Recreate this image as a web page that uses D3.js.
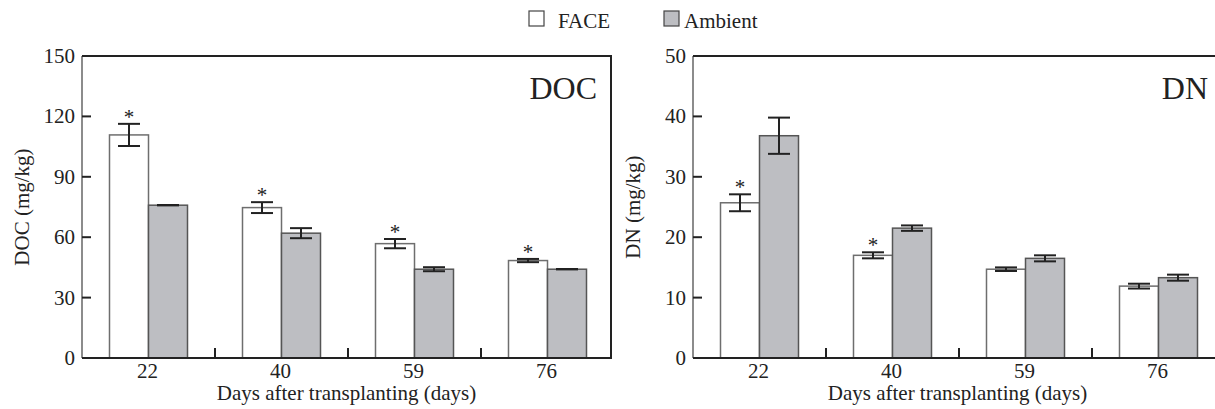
<!DOCTYPE html>
<html>
<head>
<meta charset="utf-8">
<script src="https://cdn.jsdelivr.net/npm/d3@7"></script>
<style>
    body { margin: 0; background: #fff; }
    svg { display: block; font-family: "Liberation Serif", "Times New Roman", serif; }
    .tick-label { font-size: 21px; fill: #222; }
    .axes-label { font-size: 21px; fill: #222; text-anchor: middle; }
    .panel-label { font-size: 32px; fill: #222; text-anchor: end; }
    .legend-text { font-size: 21px; fill: #222; }
    .star { font-size: 21px; fill: #222; text-anchor: middle; }
</style>
</head>
<body>
<div id="chart"></div>
<script>
// categories and series
const days = ['22', '40', '59', '76'];
const series = ['FACE', 'Ambient'];

// DOC panel (mg/kg)
const docFace = [110.8, 74.7, 56.8, 48.4];
const docFaceErr = [5.5, 2.7, 2.3, 0.8];
const docAmbient = [75.9, 62.0, 44.1, 44.1];
const docAmbientErr = [0.1, 2.5, 1.0, 0.1];
const docStars = [true, true, true, true];
const docTicks = [0, 30, 60, 90, 120, 150];

// DN panel (mg/kg)
const dnFace = [25.7, 17.0, 14.7, 11.9];
const dnFaceErr = [1.4, 0.5, 0.3, 0.4];
const dnAmbient = [36.8, 21.5, 16.5, 13.3];
const dnAmbientErr = [3.0, 0.45, 0.5, 0.5];
const dnStars = [true, true, false, false];
const dnTicks = [0, 10, 20, 30, 40, 50];

const fills = {FACE: '#ffffff', Ambient: '#bdbec2'},
    strokes = {FACE: '#6e6e6e', Ambient: '#555555'};

const svg = d3.select('#chart')
    .append('svg')
    .attr('width', 1215)
    .attr('height', 409);

// build rows for a panel from the arrays
function rows(face, faceErr, amb, ambErr, stars) {
    return days.map((d, i) => ({
        day: d,
        values: [
            {key: 'FACE', value: face[i], err: faceErr[i], star: stars[i]},
            {key: 'Ambient', value: amb[i], err: ambErr[i], star: false}
        ]
    }));
}

function barPanel(left, data, yMax, ticks, yLabelText, panelText) {
    let top = 56,
        bottom = 358,
        boxWidth = 529,
        capWidth = 22;

    let x0 = d3.scaleBand()
            .domain(days)
            .range([left, left + 532]),

        x1 = d3.scaleBand()
            .domain(series)
            .range([0, x0.bandwidth()])
            .paddingOuter(0.705),

        y = d3.scaleLinear()
            .domain([0, yMax])
            .range([bottom, top]);

    let g = svg.append('g');

    // bars
    let groups = g.selectAll('.group')
        .data(data).enter()
        .append('g')
        .attr('transform', d => `translate(${x0(d.day)},0)`);

    groups.selectAll('rect')
        .data(d => d.values).enter()
        .append('rect')
        .attr('x', d => x1(d.key))
        .attr('y', d => y(d.value))
        .attr('width', x1.bandwidth())
        .attr('height', d => bottom - y(d.value))
        .attr('fill', d => fills[d.key])
        .attr('stroke', d => strokes[d.key])
        .attr('stroke-width', 1.5);

    // error bars
    let err = groups.selectAll('.err')
        .data(d => d.values).enter()
        .append('g')
        .attr('stroke', '#222')
        .attr('stroke-width', 2);

    err.append('line')
        .attr('x1', d => x1(d.key) + x1.bandwidth() / 2)
        .attr('x2', d => x1(d.key) + x1.bandwidth() / 2)
        .attr('y1', d => y(d.value + d.err))
        .attr('y2', d => y(d.value - d.err));

    err.append('line')
        .attr('x1', d => x1(d.key) + x1.bandwidth() / 2 - capWidth / 2)
        .attr('x2', d => x1(d.key) + x1.bandwidth() / 2 + capWidth / 2)
        .attr('y1', d => y(d.value + d.err))
        .attr('y2', d => y(d.value + d.err));

    err.append('line')
        .attr('x1', d => x1(d.key) + x1.bandwidth() / 2 - capWidth / 2)
        .attr('x2', d => x1(d.key) + x1.bandwidth() / 2 + capWidth / 2)
        .attr('y1', d => y(d.value - d.err))
        .attr('y2', d => y(d.value - d.err));

    // significance stars
    groups.selectAll('.star')
        .data(d => d.values.filter(v => v.star)).enter()
        .append('text')
        .classed('star', true)
        .attr('x', d => x1(d.key) + x1.bandwidth() / 2)
        .attr('y', d => y(d.value + d.err))
        .text('*');

    // left axis (thin, grey) with inward ticks
    g.append('line')
        .attr('x1', left).attr('x2', left)
        .attr('y1', top).attr('y2', bottom)
        .attr('stroke', '#666').attr('stroke-width', 1.5);

    g.selectAll('.ytick')
        .data(ticks.slice(1, -1)).enter()
        .append('line')
        .attr('x1', left).attr('x2', left + 9)
        .attr('y1', d => y(d)).attr('y2', d => y(d))
        .attr('stroke', '#222').attr('stroke-width', 2);

    g.selectAll('.ylab')
        .data(ticks).enter()
        .append('text')
        .classed('tick-label', true)
        .attr('x', left - 7)
        .attr('y', d => y(d))
        .attr('dy', '0.33em')
        .attr('text-anchor', 'end')
        .text(d => d);

    // top, right and bottom borders
    g.append('path')
        .attr('d', `M${left},${top}H${left + boxWidth}V${bottom}H${left}`)
        .attr('fill', 'none')
        .attr('stroke', '#222')
        .attr('stroke-width', 2);

    // x ticks between the groups, pointing up
    g.selectAll('.xtick')
        .data(days.slice(1)).enter()
        .append('line')
        .attr('x1', d => x0(d)).attr('x2', d => x0(d))
        .attr('y1', bottom).attr('y2', bottom - 10)
        .attr('stroke', '#222').attr('stroke-width', 2);

    g.selectAll('.xlab')
        .data(days).enter()
        .append('text')
        .classed('tick-label', true)
        .attr('x', d => x0(d) + x0.bandwidth() / 2 - 1)
        .attr('y', 378)
        .attr('text-anchor', 'middle')
        .text(d => d);

    // axis titles
    g.append('text')
        .classed('axes-label', true)
        .attr('x', left + boxWidth / 2)
        .attr('y', 400)
        .text('Days after transplanting (days)');

    g.append('text')
        .classed('axes-label', true)
        .attr('transform', `translate(${left - 53},${(top + bottom) / 2}) rotate(-90)`)
        .text(yLabelText);

    // panel label
    g.append('text')
        .classed('panel-label', true)
        .attr('x', left + boxWidth - 14)
        .attr('y', 99)
        .text(panelText);
}

barPanel(82, rows(docFace, docFaceErr, docAmbient, docAmbientErr, docStars), 150, docTicks, 'DOC (mg/kg)', 'DOC');
barPanel(693, rows(dnFace, dnFaceErr, dnAmbient, dnAmbientErr, dnStars), 50, dnTicks, 'DN (mg/kg)', 'DN');

// legend
let legend = svg.append('g')
    .selectAll('g')
    .data(series).enter()
    .append('g')
    .attr('transform', (d, i) => `translate(${529 + i * 135},11)`);

legend.append('rect')
    .attr('width', 15)
    .attr('height', 15)
    .attr('fill', d => fills[d])
    .attr('stroke', '#444')
    .attr('stroke-width', 1.2);

legend.append('text')
    .classed('legend-text', true)
    .attr('x', (d, i) => i === 0 ? 29 : 20)
    .attr('y', 17)
    .text(d => d);
</script>
</body>
</html>
